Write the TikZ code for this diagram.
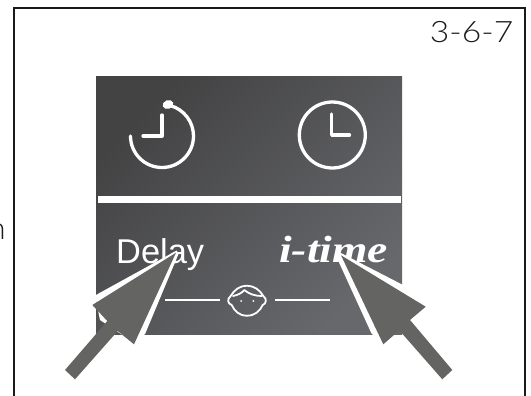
\documentclass[tikz,border=0pt]{standalone}
\usepackage{fontspec}
\setmainfont{Liberation Sans}
\newfontfamily\thinfont{Lato Light}
\newfontfamily\itimefont{Liberation Serif}
\definecolor{arrowgrey}{HTML}{646462}
\definecolor{frameblack}{HTML}{1A1A1A}
\definecolor{panelA}{HTML}{434344}
\definecolor{panelB}{HTML}{67686C}
\tikzset{
  px/.style={x=1pt,y=-1pt},
  iconline/.style={draw=white,line width=3.3pt,line cap=round,line join=round},
  faceline/.style={draw=white,line width=1.8pt,line cap=round,line join=round},
  thinline/.style={draw=white,line width=1.9pt},
  pointer/.style={fill=arrowgrey,draw=none},
  halo/.style={fill=white,draw=none},
}
\begin{document}
\begin{tikzpicture}[px]
\useasboundingbox (0,0) rectangle (531,396);
\fill[white] (0,0) rectangle (531,396);
% frame
\draw[frameblack,line width=2pt] (14.3,397) -- (14.3,8.5) -- (525,8.5) -- (525,397);
% cropped text
\node[anchor=base east,inner sep=0pt,text=frameblack] (cut) at (5.8,239) {\thinfont\fontsize{31}{31}\selectfont n};
\node[anchor=base east,inner sep=0pt,text=frameblack] (num) at (513.5,43) {\scalebox{1.14}[1]{\thinfont\fontsize{29.5}{29.5}\selectfont 3-6-7}};
% panel
\shade[left color=panelA,right color=panelB,shading angle=45] (96,77) rectangle (402,334);
\fill[white] (98,196) rectangle (401,203);
% delay icon
\draw[iconline] (130.5,136) arc[start angle=180,end angle=-75,radius=31.5];
\draw[iconline] (162,115) -- (162,136) -- (143,136);
\fill[white,rotate around={20:(168,104.5)}] (168,104.5) ellipse[x radius=5.5,y radius=4.3];
% clock icon
\draw[iconline] (332.3,135) circle[radius=33];
\draw[iconline] (331.7,114) -- (331.7,135) -- (349.5,135);
% labels
\node[anchor=base west,inner sep=0pt,text=white] (delay) at (116,263) {\fontsize{34.4}{34.4}\selectfont Delay};
\node[anchor=base west,inner sep=0pt,text=white] (itime) at (279,262.7) {\scalebox{1.2}[1]{\itimefont\bfseries\itshape\fontsize{38}{38}\selectfont i-time}};
% face and rules
\draw[thinline] (165,299.7) -- (220,299.7);
\draw[thinline] (275,299.7) -- (330,299.7);
\draw[faceline] (247,315.7) .. controls (239,315.7) and (234.5,311) .. (231.7,305)
  .. controls (228,304) and (226.5,299) .. (230.7,296)
  .. controls (234,290) and (240,285.7) .. (246.7,285.7)
  .. controls (254,285.7) and (260,290) .. (263.3,296)
  .. controls (267.5,299) and (266,304) .. (262.7,305)
  .. controls (260,311) and (255,315.7) .. (247,315.7);
\draw[faceline] (233,296) .. controls (238,295) and (242,293) .. (244.3,290)
  .. controls (249,294) and (255,296) .. (261.7,296);
\fill[white] (241,301) circle[radius=1] (253.3,301) circle[radius=1];
% left pointer
\fill[halo] (176.7,250.5) -- (95,295.5) -- (100,320) -- (130,340) -- (140,340) -- (145.3,333.5) -- (178.5,254) -- cycle;
\fill[pointer] (176,252.7) -- (92.3,305) -- (107.3,321) -- (65,370) -- (75,379.3) -- (117.7,331) -- (134,344.3) -- cycle;
% right pointer
\fill[halo] (338,251.5) -- (404,285.5) -- (410,310) -- (385,345) -- (371.5,333.5) -- (336.5,257) -- cycle;
\fill[pointer] (341,255.3) -- (425.7,306.7) -- (410,320) -- (452.3,370) -- (442.3,379.3) -- (399.3,330.3) -- (383.3,344.3) -- cycle;
\end{tikzpicture}
\end{document}
